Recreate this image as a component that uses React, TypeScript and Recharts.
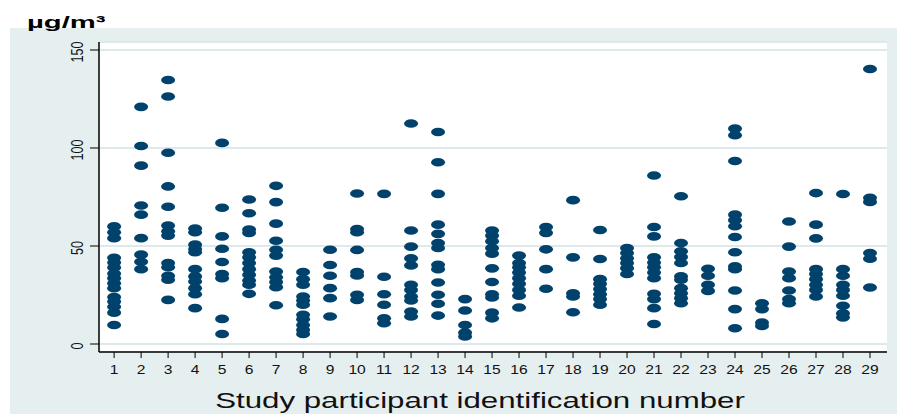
import { CartesianGrid, Scatter, ScatterChart, XAxis, YAxis } from "recharts";

// participant ids along the x axis
const participantIds = [
  1, 2, 3, 4, 5, 6, 7, 8, 9, 10, 11, 12, 13, 14, 15, 16, 17, 18, 19, 20, 21,
  22, 23, 24, 25, 26, 27, 28, 29,
];

// measured concentrations (µg/m³), one list per participant
const p01 = [60, 57, 54, 44, 41.6, 39, 36, 33.6, 31, 28.5, 24, 21.7, 19, 16, 9.7];
const p02 = [121, 101, 91, 70.7, 66, 54, 45.6, 42, 38.2];
const p03 = [134.7, 126.3, 97.6, 80.4, 70, 60.4, 57.5, 55.3, 41.3, 39.2, 34.8, 32.8, 22.5];
const p04 = [58.9, 57, 50.7, 48.5, 46.8, 38.2, 34.5, 31.9, 28.5, 25.4, 18.3];
const p05 = [102.6, 69.5, 54.9, 48.6, 41.8, 35.7, 33.6, 12.8, 5.1];
const p06 = [73.7, 66.7, 58.4, 56.7, 46.8, 44.2, 41.3, 38.2, 35.3, 32.4, 30.2, 25.6];
const p07 = [80.7, 72.4, 61.4, 52.7, 48.1, 45.1, 37, 34.1, 31.6, 29, 19.8];
const p08 = [36.7, 33.1, 30.2, 24.2, 22.2, 20, 14.9, 12.6, 9.7, 7.2, 5.1];
const p09 = [48.1, 40.3, 34.8, 28.5, 23.4, 14];
const p10 = [76.8, 58.7, 57, 48, 36.7, 35, 25.1, 22.5];
const p11 = [76.6, 34.3, 25.4, 20, 13.1, 10.6];
const p12 = [112.5, 57.9, 49.7, 43.7, 40.1, 30.2, 27.6, 24.2, 22.2, 16.6, 14];
const p13 = [108.2, 92.7, 76.6, 60.9, 56.2, 51.5, 49, 40.4, 38.2, 31.4, 25.1, 20.5, 14.5];
const p14 = [22.9, 17.1, 9.7, 5.8, 3.8];
const p15 = [57.9, 55.3, 52.4, 49, 46.1, 38.6, 31.6, 25.4, 23.7, 16, 13.1];
const p16 = [45.1, 41.3, 39.1, 36.5, 33.6, 30.7, 27.6, 24.6, 18.6];
const p17 = [59.7, 56.7, 48.3, 38.2, 28.2];
const p18 = [73.4, 44.2, 25.9, 24.2, 16.2];
const p19 = [58.2, 43.4, 33.1, 30.7, 28, 25.4, 22.9, 20];
const p20 = [49, 46.4, 43.7, 41.3, 38.7, 35.7];
const p21 = [86, 59.7, 54.9, 44.2, 41.6, 39.2, 36.5, 33.6, 25.6, 22.9, 18.3, 10.2];
const p22 = [75.4, 51.5, 47.3, 44.4, 41.3, 34.5, 32.8, 28.5, 25.9, 23.4, 20.8];
const p23 = [38.4, 34.8, 30.2, 27.1];
const p24 = [109.9, 106.5, 93.4, 66, 63.2, 60.1, 54.6, 46.8, 39.6, 38.2, 27.3, 17.8, 8];
const p25 = [20.8, 17.8, 10.9, 9.2];
const p26 = [62.5, 49.7, 37, 33.6, 27.3, 22.9, 20.8];
const p27 = [77, 60.9, 53.9, 38.2, 35.7, 33.1, 30.2, 27.6, 24.2];
const p28 = [76.5, 38.2, 34.8, 30.2, 27.6, 24.6, 19.5, 15.7, 13.6];
const p29 = [140.3, 74.6, 72.5, 46.4, 43.5, 28.8];

const concentrations = [
  p01, p02, p03, p04, p05, p06, p07, p08, p09, p10, p11, p12, p13, p14, p15,
  p16, p17, p18, p19, p20, p21, p22, p23, p24, p25, p26, p27, p28, p29,
];

const yTicks = [0, 50, 100, 150];

const data = participantIds.flatMap((id, i) =>
  concentrations[i].map((v) => ({ id, v }))
);

const FONT = "'Liberation Sans', Arial, sans-serif";
const DOT = "#01426d";
// the original graph was stretched sideways, so text is wider than normal
const STRETCH = 1.24;

const Dot = (props: any) => (
  <ellipse cx={props.cx} cy={props.cy} rx={7} ry={4.3} fill={DOT} />
);

const XTick = ({ x, y, payload }: any) => (
  <g transform={`translate(${x},${y}) scale(${STRETCH},1)`}>
    <text
      textAnchor="middle"
      dy="0.71em"
      fontSize={12.6}
      fontFamily={FONT}
      fill="#111"
    >
      {payload.value}
    </text>
  </g>
);

const YTick = ({ x, y, payload }: any) => (
  <g transform={`translate(${x - 10.5},${y + 2}) scale(${STRETCH},1) rotate(-90)`}>
    <text
      textAnchor="middle"
      dy="0.35em"
      fontSize={12.6}
      fontFamily={FONT}
      fill="#111"
    >
      {payload.value}
    </text>
  </g>
);

const App = () => {
  return (
    <div
      style={{
        position: "relative",
        width: 897,
        height: 414,
        background: "#fff",
        overflow: "hidden",
        fontFamily: FONT,
      }}
    >
      <style>{`body{margin:0}`}</style>
      <div
        style={{
          position: "absolute",
          left: 10,
          top: 28,
          right: 0,
          bottom: 0,
          background: "#e5eff0",
        }}
      />
      <div
        style={{
          position: "absolute",
          left: 27,
          top: 14,
          fontSize: 17,
          fontWeight: "bold",
          lineHeight: 1,
          color: "#000",
          whiteSpace: "nowrap",
          transform: "scaleX(1.72)",
          transformOrigin: "left top",
        }}
      >
        µg/m³
      </div>
      <div style={{ position: "absolute", left: 0, top: 0 }}>
        <ScatterChart
          width={897}
          height={414}
          margin={{ top: 42, right: 10, left: 0, bottom: 22 }}
        >
          <CartesianGrid
            horizontal
            vertical={false}
            fill="#fff"
            stroke="#dde9eb"
            strokeWidth={2}
          />
          <XAxis
            type="number"
            dataKey="id"
            domain={[0.44, 29.63]}
            ticks={participantIds}
            interval={0}
            allowDataOverflow
            height={40}
            tickSize={6}
            tickMargin={7}
            axisLine={{ stroke: "#000", strokeWidth: 1.5 }}
            tickLine={{ stroke: "#000" }}
            tick={<XTick />}
          />
          <YAxis
            type="number"
            dataKey="v"
            domain={[-4.08, 154.08]}
            ticks={yTicks}
            interval={0}
            allowDataOverflow
            width={99}
            tickSize={9}
            axisLine={{ stroke: "#000", strokeWidth: 1.5 }}
            tickLine={{ stroke: "#000" }}
            tick={<YTick />}
          />
          <Scatter data={data} shape={<Dot />} isAnimationActive={false} />
        </ScatterChart>
      </div>
      <div
        style={{
          position: "absolute",
          left: 480,
          top: 390,
          fontSize: 22,
          color: "#111",
          lineHeight: 1,
          whiteSpace: "nowrap",
          transform: "translateX(-50%) scaleX(1.42)",
          transformOrigin: "center",
        }}
      >
        Study participant identification number
      </div>
    </div>
  );
};

export default App;
